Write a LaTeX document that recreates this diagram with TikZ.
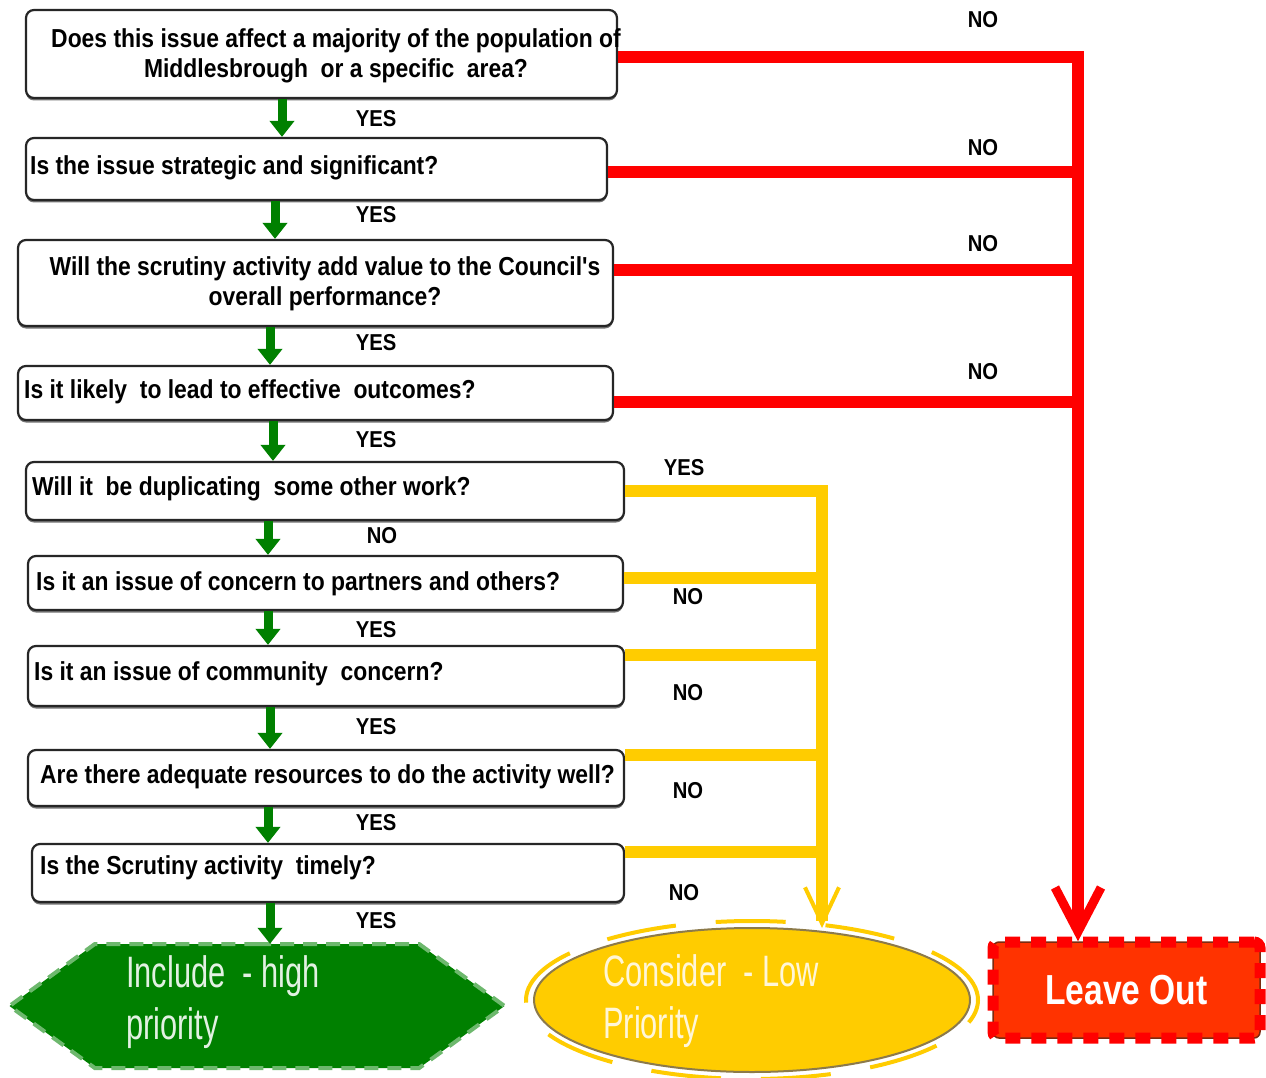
\documentclass[tikz,border=0pt]{standalone}
\usepackage{fontspec}
\setmainfont{Liberation Sans}
\newfontfamily\qfont[FakeStretch=0.88]{Liberation Sans}
\newfontfamily\nfont[FakeStretch=0.7]{Liberation Sans}
\newfontfamily\lofont[FakeStretch=0.8]{Liberation Sans}
\usetikzlibrary{arrows.meta,shapes.geometric,shapes.symbols,shadows}
\definecolor{gr}{HTML}{008000}
\definecolor{ltgr}{HTML}{6DB86D}
\definecolor{rl}{HTML}{FF0000}
\definecolor{lofill}{HTML}{FF3300}
\definecolor{lobord}{HTML}{7A2A10}
\definecolor{yl}{HTML}{FFCC00}
\definecolor{elbord}{HTML}{8C7A4A}
\definecolor{inctext}{HTML}{E2F1E2}
\definecolor{context}{HTML}{FFF6D8}
\tikzset{
  qbox/.style={draw=black!85, line width=2.2pt, rounded corners=8pt, fill=white,
    drop shadow={shadow xshift=0pt, shadow yshift=-2.5pt, fill=black!55, opacity=1},
    inner sep=0pt},
  qtxt/.style={font=\qfont\bfseries\fontsize{26}{30}\selectfont, inner sep=0pt, align=center},
  lbl/.style={font=\qfont\bfseries\fontsize{23}{23}\selectfont, inner sep=0pt},
  bigtxt/.style={font=\nfont\fontsize{44}{52}\selectfont, inner sep=0pt, align=left},
  garrow/.style={draw=gr, line width=9pt, -{Triangle[length=16pt,width=24pt]}},
  rline/.style={draw=rl, line width=12pt},
  yline/.style={draw=yl, line width=12pt},
  rtip/.style={-{Straight Barb[length=44pt,width=46pt,line width=9pt]}},
  ytip/.style={-{Straight Barb[length=36pt,width=34pt,line width=4pt]}},
}
\begin{document}
\begin{tikzpicture}[x=1pt,y=-1pt]
\path[use as bounding box, fill=white] (0,0) rectangle (1266,1078);

% question boxes
\node[qbox, minimum width=591pt, minimum height=88pt] (b1) at (321.5,54) {};
\node[qbox, minimum width=581pt, minimum height=62pt] (b2) at (316.5,169) {};
\node[qbox, minimum width=595pt, minimum height=86pt] (b3) at (315.5,283) {};
\node[qbox, minimum width=595pt, minimum height=54pt] (b4) at (315.5,393) {};
\node[qbox, minimum width=598pt, minimum height=58pt] (b5) at (325,491) {};
\node[qbox, minimum width=595pt, minimum height=54pt] (b6) at (325.5,583) {};
\node[qbox, minimum width=596pt, minimum height=60pt] (b7) at (326,676) {};
\node[qbox, minimum width=596pt, minimum height=56pt] (b8) at (326,778) {};
\node[qbox, minimum width=592pt, minimum height=58pt] (b9) at (328,873) {};

\node[qtxt] (t1) at (336,56) {Does this issue affect a majority of the population of\\Middlesbrough\ \ or a specific\ \ area?};
\node[qtxt, anchor=west] (t2) at (30,168) {Is the issue strategic and significant?};
\node[qtxt] (t3) at (325,284) {Will the scrutiny activity add value to the Council's\\overall performance?};
\node[qtxt, anchor=west] (t4) at (24,392) {Is it likely\ \ to lead to effective\ \ outcomes?};
\node[qtxt, anchor=west] (t5) at (32,489) {Will it\ \ be duplicating\ \ some other work?};
\node[qtxt, anchor=west] (t6) at (36,584) {Is it an issue of concern to partners and others?};
\node[qtxt, anchor=west] (t7) at (34,674) {Is it an issue of community\ \ concern?};
\node[qtxt, anchor=west] (t8) at (40,777) {Are there adequate resources to do the activity well?};
\node[qtxt, anchor=west] (t9) at (40,868) {Is the Scrutiny activity\ \ timely?};

% outcome shapes
\node[signal, signal to=west and east, signal pointer angle=72,
      minimum width=495pt, minimum height=124pt, inner sep=0pt, fill=gr,
      postaction={draw=ltgr, line width=4pt, dash pattern=on 14pt off 9pt}] (inc) at (257,1006) {};
\node[bigtxt, anchor=west, text=inctext] (inct) at (126,1002) {Include\ \ - high\\priority};

\node[ellipse, minimum width=436pt, minimum height=144pt, inner sep=0pt,
      fill=yl, draw=elbord, line width=2pt] (cons) at (752,1000) {};
\draw[yl, line width=4pt, dash pattern=on 70pt off 40pt] (cons.center) ellipse [x radius=226pt, y radius=79pt];
\node[bigtxt, anchor=west, text=context] (const) at (603,1001) {Consider\ \ - Low\\Priority};

\node[minimum width=267pt, minimum height=96pt, inner sep=0pt, rounded corners=6pt,
      fill=lofill, draw=lobord, line width=1.5pt,
      postaction={draw=rl, line width=11pt, dash pattern=on 15pt off 11pt},
      font=\lofont\bfseries\fontsize{42}{42}\selectfont, text=white] (lo) at (1126.5,990) {Leave Out};

% coordinates for trunk lines
\coordinate (rx) at (1078,0);
\coordinate (yx) at (822,0);
\coordinate (loin) at (lo.north -| rx);
\coordinate (yin) at (822,928);
\coordinate (gx1) at (282,0);
\coordinate (gx2) at (275,0);
\coordinate (gx3) at (270,0);
\coordinate (gx4) at (273,0);
\coordinate (gx5) at (268,0);
\coordinate (gx6) at (268,0);
\coordinate (gx7) at (270,0);
\coordinate (gx8) at (268,0);
\coordinate (gx9) at (270,0);

% red NO connectors
\draw[rline] ([yshift=-3pt]b2.east) -- ([yshift=-3pt]b2.east -| rx);
\draw[rline] ([yshift=13pt]b3.east) -- ([yshift=13pt]b3.east -| rx);
\draw[rline] ([yshift=-9pt]b4.east) -- ([yshift=-9pt]b4.east -| rx);
\draw[rline, rtip] ([yshift=-3pt]b1.east) -| (loin);

% yellow connectors
\draw[yline] ([yshift=5pt]b6.east) -- ([yshift=5pt]b6.east -| yx);
\draw[yline] ([yshift=21pt]b7.east) -- ([yshift=21pt]b7.east -| yx);
\draw[yline] ([yshift=23pt]b8.east) -- ([yshift=23pt]b8.east -| yx);
\draw[yline] ([yshift=21pt]b9.east) -- ([yshift=21pt]b9.east -| yx);
\draw[yline, ytip] (b5.east) -| (yin);

% green YES connectors
\draw[garrow] (b1.south -| gx1) -- (b2.north -| gx1);
\draw[garrow] (b2.south -| gx2) -- (b3.north -| gx2);
\draw[garrow] (b3.south -| gx3) -- (b4.north -| gx3);
\draw[garrow] (b4.south -| gx4) -- (b5.north -| gx4);
\draw[garrow] (b5.south -| gx5) -- (b6.north -| gx5);
\draw[garrow] (b6.south -| gx6) -- (b7.north -| gx6);
\draw[garrow] (b7.south -| gx7) -- (b8.north -| gx7);
\draw[garrow] (b8.south -| gx8) -- (b9.north -| gx8);
\draw[garrow] (b9.south -| gx9) -- (inc.north -| gx9);

% labels
\node[lbl] (y1) at (376,119) {YES};
\node[lbl] (y2) at (376,215) {YES};
\node[lbl] (y3) at (376,343) {YES};
\node[lbl] (y4) at (376,440) {YES};
\node[lbl] (n5) at (382,536) {NO};
\node[lbl] (y6) at (376,630) {YES};
\node[lbl] (y7) at (376,727) {YES};
\node[lbl] (y8) at (376,823) {YES};
\node[lbl] (y9) at (376,921) {YES};
\node[lbl] (rn1) at (983,20) {NO};
\node[lbl] (rn2) at (983,148) {NO};
\node[lbl] (rn3) at (983,244) {NO};
\node[lbl] (rn4) at (983,372) {NO};
\node[lbl] (yy5) at (684,468) {YES};
\node[lbl] (yn6) at (688,597) {NO};
\node[lbl] (yn7) at (688,693) {NO};
\node[lbl] (yn8) at (688,791) {NO};
\node[lbl] (yn9) at (684,893) {NO};
\end{tikzpicture}
\end{document}
